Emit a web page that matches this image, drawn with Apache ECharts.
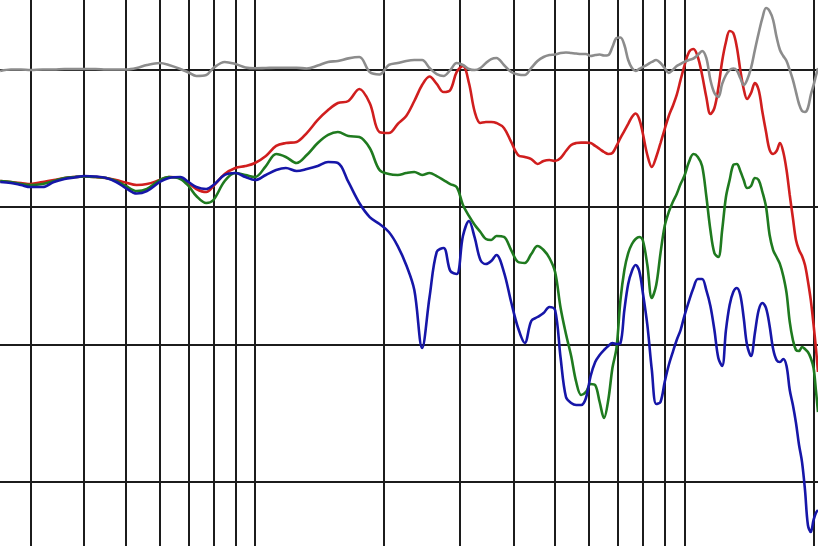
<!DOCTYPE html>
<html>
<head>
<meta charset="utf-8">
<script src="https://cdn.jsdelivr.net/npm/echarts@6/dist/echarts.min.js"></script>
<style>
html,body{margin:0;padding:0;background:#fff;}
#chart{width:818px;height:546px;}
</style>
</head>
<body>
<div id="chart"></div>
<script>
// Frequencies (Hz) of the sampled points
const freqs = [255,270,285,300,320,340,360,380,400,425,450,475,500,530,560,600,630,670,700,730,770,800,850,900,950,
1000,1060,1120,1180,1250,1320,1400,1480,1560,1650,1750,1850,1950,2050,2150,2250,2350,2450,2550,2650,2750,2850,2950,
3050,3150,3250,3350,3450,3550,3650,
3800,3950,4100,4250,4400,4550,4700,4850,5000,
5150,5300,5450,5600,5750,5900,6050,6200,6350,6500,6650,6800,6950,7100,7250,7400,7550,7700,7850,8000,
8200,8400,8600,8800,9000,9200,9400,9600,9800,
10000,10250,10500,10750,11000,11250,11500,11750,12000,12250,12500,12750,13000,13250,13500,13750,14000,
14300,14600,14900,15200,15500,15800,16100,16400,16700,17000,17300,17600,17900,18200,18500,18800,19100,19400,19700,20000,
20250,20480];

// Levels in dB
const grayDb = [-0.11,0,0,-0.04,0,0,0.04,0.04,0.04,0.04,0,0,0,0.11,0.33,0.47,0.33,0.04,-0.22,-0.47,-0.4,0.11,0.55,0.4,0.15,
0.09,0.11,0.13,0.13,0.13,0.07,0.29,0.55,0.62,0.81,0.91,-0.18,-0.36,0.33,0.47,0.62,0.69,0.69,0.11,-0.33,-0.47,-0.04,0.47,
0.33,0.04,-0.04,0.11,0.47,0.76,0.84,
0.33,-0.18,-0.36,-0.4,0.11,0.62,0.91,1.05,1.09,
1.2,1.24,1.2,1.16,1.13,1.13,0.98,1.05,1.09,1.02,1.05,1.64,2.29,2.33,1.78,0.69,0.11,-0.11,0.04,0.18,
0.36,0.55,0.69,0.47,0.11,-0.25,-0.04,0.25,0.4,
0.55,0.69,0.8,1.05,1.35,0.84,-0.76,-1.71,-2.0,-1.05,-0.4,-0.04,0.07,-0.07,-0.62,-1.13,-0.76,
0.11,1.42,2.65,3.75,4.47,4.25,3.6,2.36,1.42,0.98,0.62,-0.04,-0.76,-1.64,-2.51,-3.02,-3.09,-2.8,-1.85,-1.13,
-0.47,0.11];

const redDb = [-8.11,-8.18,-8.25,-8.33,-8.18,-8.04,-7.89,-7.82,-7.78,-7.82,-7.89,-8.04,-8.22,-8.4,-8.33,-8.04,-7.82,-7.89,-8.25,-8.69,-8.91,-8.47,-7.6,-7.16,-7.02,
-6.8,-6.29,-5.56,-5.35,-5.27,-4.62,-3.67,-2.95,-2.44,-2.29,-1.42,-2.44,-4.55,-4.62,-3.96,-3.38,-2.29,-1.13,-0.51,-1.05,-1.64,-1.49,-0.18,
0.25,-0.98,-3.09,-3.89,-3.82,-3.82,-3.89,
-4.25,-5.27,-6.22,-6.36,-6.51,-6.87,-6.65,-6.58,-6.65,
-6.44,-5.93,-5.49,-5.35,-5.32,-5.32,-5.35,-5.56,-5.78,-6.0,-6.15,-6.07,-5.56,-4.98,-4.47,-3.96,-3.45,-3.2,-3.6,-4.62,
-6.22,-7.09,-6.36,-5.35,-4.33,-3.38,-2.65,-1.85,-0.76,
0.25,1.27,1.49,0.91,-0.4,-2.0,-3.24,-2.8,-1.35,0.62,2.0,2.8,2.65,1.64,-0.04,-1.42,-2.15,
-1.71,-0.98,-1.49,-3.09,-4.55,-5.85,-6.15,-5.93,-5.35,-6.0,-7.31,-9.13,-10.8,-12.4,-13.13,-13.56,-14.22,-15.38,-16.76,-18.58,
-20.25,-22.0];

const greenDb = [-8.11,-8.18,-8.33,-8.4,-8.33,-8.11,-7.89,-7.82,-7.78,-7.82,-7.89,-8.11,-8.47,-8.84,-8.69,-8.04,-7.82,-7.96,-8.47,-9.2,-9.71,-9.49,-8.11,-7.53,-7.67,
-7.82,-7.02,-6.15,-6.36,-6.8,-6.22,-5.35,-4.76,-4.55,-4.84,-4.91,-5.71,-7.31,-7.6,-7.67,-7.53,-7.45,-7.67,-7.53,-7.75,-8.04,-8.33,-8.55,
-9.85,-10.65,-11.31,-11.82,-12.33,-12.4,-12.11,
-12.18,-13.13,-14.0,-14.07,-13.42,-12.84,-13.13,-13.71,-14.73,
-17.35,-19.24,-20.84,-22.73,-23.67,-23.45,-22.87,-22.95,-24.18,-25.35,-24.04,-21.71,-20.25,-16.76,-14.58,-13.35,-12.69,-12.33,-12.18,-12.4,
-14.22,-16.62,-15.67,-13.35,-11.38,-10.36,-9.64,-9.05,-8.33,
-7.75,-6.73,-6.15,-6.36,-7.02,-9.2,-11.67,-13.35,-13.64,-11.67,-9.27,-8.04,-6.95,-6.87,-7.38,-8.04,-8.62,
-8.47,-7.89,-8.04,-8.91,-10.0,-12.04,-13.13,-13.64,-14.15,-15.02,-16.25,-18.36,-19.67,-20.4,-20.47,-20.18,-20.33,-20.55,-20.98,-21.71,
-23.31,-24.91];

const blueDb = [-8.18,-8.25,-8.4,-8.55,-8.55,-8.18,-7.96,-7.85,-7.75,-7.78,-7.89,-8.18,-8.62,-9.02,-8.84,-8.18,-7.89,-7.82,-8.18,-8.55,-8.69,-8.4,-7.67,-7.53,-7.82,
-8.04,-7.67,-7.31,-7.16,-7.38,-7.24,-7.02,-6.73,-6.8,-8.18,-9.71,-10.73,-11.24,-11.82,-12.84,-14.22,-16.04,-20.25,-16.55,-13.27,-12.98,-14.65,-14.87,
-12.11,-11.02,-12.25,-13.85,-14.15,-13.93,-13.49,
-14.73,-16.91,-18.8,-19.89,-18.29,-18.0,-17.71,-17.27,-17.49,
-20.98,-23.82,-24.25,-24.4,-24.4,-23.89,-22.29,-21.27,-20.76,-20.4,-20.11,-19.89,-19.96,-19.89,-17.49,-15.6,-14.65,-14.22,-14.65,-16.18,
-18.58,-21.85,-24.33,-24.18,-22.73,-21.49,-20.55,-19.67,-18.95,
-17.93,-16.84,-15.89,-15.24,-15.24,-16.04,-17.2,-18.95,-20.98,-21.56,-18.95,-17.13,-16.18,-15.89,-16.4,-18.07,-20.04,
-20.84,-19.16,-17.49,-16.98,-17.35,-18.65,-20.33,-21.13,-21.27,-21.05,-21.56,-23.31,-24.4,-25.71,-27.31,-28.55,-30.58,-33.13,-33.64,-32.76,
-32.25,-32.04];

// Grid lines
const gridFreqs = [300,400,500,600,700,800,900,1000,2000,3000,4000,5000,6000,7000,8000,9000,10000,20000];
const gridLevels = [0,-10,-20,-30];

const pairs = (vals) => freqs.map((f, i) => [f, vals[i]]);

const chart = echarts.init(document.getElementById('chart'), null, {renderer: 'canvas'});

const curve = (name, color, vals, z) => ({
  name, type: 'line', data: pairs(vals), showSymbol: false, smooth: 0.35,
  lineStyle: {color, width: 2.6}, z, silent: true
});

const redSeries = curve('red', '#d01e1e', redDb, 3);
redSeries.markLine = {
  silent: true, symbol: ['none', 'none'], z: 1, animation: false,
  label: {show: false},
  lineStyle: {color: '#1c1c1c', width: 2, type: 'solid'},
  data: gridFreqs.map(f => ({xAxis: f})).concat(gridLevels.map(v => ({yAxis: v})))
};

chart.setOption({
  animation: false,
  backgroundColor: '#ffffff',
  grid: {left: 0, right: 0, top: 0, bottom: 0},
  xAxis: {
    type: 'log', logBase: 10, min: 254.7, max: 20480,
    axisLine: {show: false}, axisTick: {show: false}, axisLabel: {show: false},
    splitLine: {show: false}, minorSplitLine: {show: false}
  },
  yAxis: {
    type: 'value', min: -34.655, max: 5.055,
    axisLine: {show: false}, axisTick: {show: false}, axisLabel: {show: false},
    splitLine: {show: false}
  },
  series: [
    redSeries,
    curve('green', '#1f7a1f', greenDb, 4),
    curve('blue', '#1616a8', blueDb, 5),
    curve('gray', '#8c8c8c', grayDb, 6)
  ]
});
</script>
</body>
</html>
